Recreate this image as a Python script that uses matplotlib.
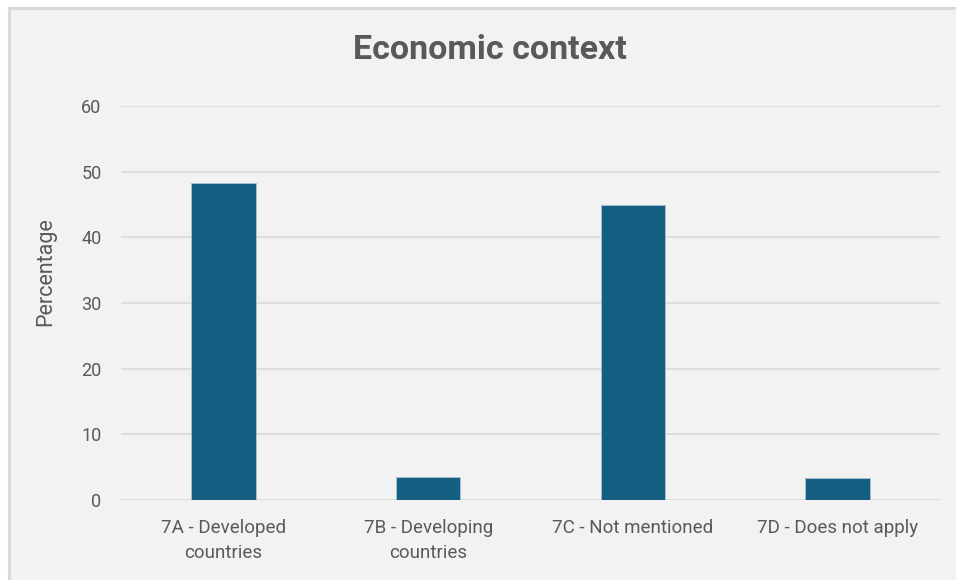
import matplotlib
matplotlib.use("Agg")
import matplotlib.pyplot as plt
from matplotlib.patches import Rectangle

categories = ["7A - Developed\ncountries", "7B - Developing\ncountries",
              "7C - Not mentioned", "7D - Does not apply"]
percentages = [48.2, 3.5, 44.9, 3.4]
y_ticks = [0, 10, 20, 30, 40, 50, 60]

W, H = 956, 580
DPI = 100
TEXT = "#595959"
BAR = "#156082"
BG = "#f2f2f2"

fig = plt.figure(figsize=(W / DPI, H / DPI), dpi=DPI, facecolor="white")

# chart area frame
fig.patches.append(Rectangle((8.5 / W, -0.01), 1.05, 1 - 7.5 / H + 0.01,
                             transform=fig.transFigure, facecolor=BG,
                             edgecolor="#d9d9d9", linewidth=2.2, zorder=-5))

ax = fig.add_axes([121 / W, 1 - 500 / H, (940 - 121) / W, (500 - 106) / H])
ax.set_facecolor("none")
x = range(len(categories))
ax.bar(x, percentages, width=0.315, color=BAR, edgecolor="#a9c4d2",
       linewidth=0.6, zorder=3)
ax.set_xlim(-0.5, len(categories) - 0.5)
ax.set_ylim(0, 60)
ax.set_yticks(y_ticks)
ax.set_yticklabels([str(t) for t in y_ticks], fontfamily="Roboto",
                   fontsize=13, color=TEXT)
ax.set_xticks(list(x))
ax.set_xticklabels(categories, fontfamily="Roboto", fontsize=13.5, color=TEXT,
                   linespacing=1.5)
ax.tick_params(axis="y", length=0, pad=14)
ax.tick_params(axis="x", length=0, pad=14)
ax.grid(axis="y", color="#d9d9d9", linewidth=1.2, zorder=0)
for s in ax.spines.values():
    s.set_visible(False)

fig.text(46 / W, 1 - 272 / H, "Percentage", rotation=90, ha="center",
         va="center", fontfamily="Roboto", fontsize=15.5, color=TEXT)
fig.text(490 / W, 1 - 50 / H, "Economic context", ha="center", va="center",
         fontfamily="Roboto", fontweight="bold", fontsize=24.5, color=TEXT)

fig.savefig("out.png", dpi=DPI, facecolor="white")
